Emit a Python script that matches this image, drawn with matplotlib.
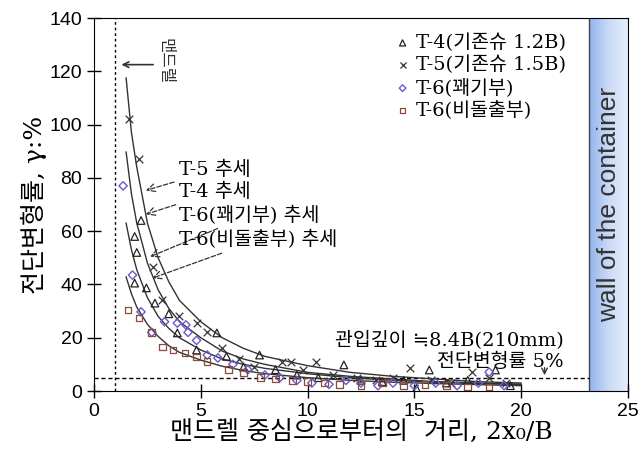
import numpy as np
import matplotlib
matplotlib.use('Agg')
import matplotlib.pyplot as plt
from matplotlib.colors import LinearSegmentedColormap

plt.rcParams['font.family'] = ['Liberation Sans', 'Noto Sans CJK KR', 'DejaVu Sans']
kr_serif = ['DejaVu Serif', 'Noto Sans CJK KR', 'DejaVu Sans']

# measured points
t4_x = [1.9, 2.0, 2.2, 1.9, 2.45, 2.85, 3.5, 3.9, 4.8, 5.75, 6.2, 7.0, 7.75, 8.5, 9.5,
        10.5, 11.7, 12.5, 13.5, 14.5, 15.1, 15.7, 16.5, 17.5, 18.8, 19.5]
t4_y = [58, 52, 64, 40.5, 38.7, 33, 29, 21.8, 15.4, 21.8, 13, 9, 13.5, 8, 6,
        5, 9.8, 4, 3.5, 4, 1, 7.9, 3, 4, 7.9, 2]

t5_x = [1.64, 2.1, 2.76, 3.2, 4.0, 4.8, 5.3, 6.0, 6.8, 7.5, 8.8, 9.2, 9.8, 10.4,
        11.2, 12.3, 13.2, 14.0, 14.8, 15.8, 16.7, 17.7, 18.5, 19.3]
t5_y = [102, 87, 46.5, 34, 28, 25.5, 22, 16, 12, 9, 11, 11, 8, 11,
        6, 5, 4, 5, 8.6, 4, 3, 7.1, 5, 3]

t6a_x = [1.36, 1.8, 2.2, 2.7, 3.3, 3.9, 4.3, 4.4, 4.8, 5.3, 5.8, 6.5, 7.2, 8.0, 8.7,
         9.5, 10.2, 11.0, 11.8, 12.5, 13.3, 14.0, 15.0, 16.0, 17.0, 18.0, 18.5, 19.2]
t6a_y = [77, 43.5, 29.7, 22, 26, 25.5, 24.8, 22, 19, 13.5, 12.4, 10, 8, 6, 5,
         4, 3, 2.5, 4, 3, 2, 3, 2, 3, 2, 3, 7.1, 2]

t6b_x = [1.6, 2.1, 2.7, 3.2, 3.7, 4.25, 4.8, 5.3, 6.3, 7.0, 7.8, 8.5, 9.3, 10.0,
         10.8, 11.5, 12.5, 13.5, 14.5, 15.5, 16.5, 17.5, 18.5]
t6b_y = [30.4, 27.4, 22, 16.5, 15.4, 14.2, 12.8, 11, 8, 7, 5, 4.5, 4, 3.5,
         3, 2.5, 2, 3, 2, 2.5, 2, 1.5, 1.5]

# trend lines
trend_x = [1.5, 1.75, 2, 2.5, 3, 3.5, 4, 5, 6, 7, 8, 10, 12, 14, 16, 18, 20]
trend_t5 = [117.5, 97, 84, 63, 50, 41, 34, 26, 20, 16, 13, 9.5, 7, 5.5, 4.5, 3.5, 3]
trend_t4 = [89.7, 74, 63, 48, 38, 31, 26, 20, 15, 12, 10, 7, 5.5, 4.5, 3.5, 3, 2.5]
trend_t6a = [63, 53, 45.5, 35, 28, 23.5, 20, 15.4, 12, 10, 8.5, 6.5, 5, 4, 3.3, 2.8, 2.5]
trend_t6b = [42.8, 36.5, 31.5, 25, 20.5, 17, 14.5, 11.6, 9.3, 7.7, 6.5, 5, 4, 3.3, 2.8, 2.4, 2]

trend_labels = ['T-5 추세', 'T-4 추세', 'T-6(꽤기부) 추세', 'T-6(비돌출부) 추세']
trend_text_y = [83, 74.7, 66, 56.7]
trend_tip = [(2.3, 75), (2.3, 66), (2.5, 50), (2.6, 42)]

fig = plt.figure(figsize=(6.4, 4.68), dpi=100)
ax = fig.add_axes([0.147, 0.1645, 0.834, 0.797])

# wall of the container
cmap = LinearSegmentedColormap.from_list('wall', ['#93b4ec', '#c9dbf7', '#e4eefc'])
grad = np.linspace(0, 1, 100).reshape(1, -1)
ax.imshow(grad, cmap=cmap, extent=[23.2, 25, 0, 140], aspect='auto', zorder=1)
ax.plot([23.2, 23.2], [0, 140], color='#444444', lw=1, zorder=2)
ax.text(24.1, 70, 'wall of the container', rotation=90, ha='center', va='center',
        fontsize=19, color='#333333', zorder=3)

# reference lines
ax.plot([1.0, 1.0], [0, 140], color='black', lw=1, ls=(0, (2, 2)), zorder=2)
ax.plot([0, 23.2], [5, 5], color='black', lw=1, ls=(0, (3, 2)), zorder=2)

for ty in [trend_t5, trend_t4, trend_t6a, trend_t6b]:
    ax.plot(trend_x, ty, color='#333333', lw=1.0, zorder=4)

ax.scatter(t4_x, t4_y, marker='^', s=30, facecolors='none', edgecolors='#222222',
           linewidths=0.9, zorder=5, label='T-4(기존슈 1.2B)')
ax.scatter(t5_x, t5_y, marker='x', s=30, color='#333333', linewidths=0.9, zorder=5,
           label='T-5(기존슈 1.5B)')
ax.scatter(t6a_x, t6a_y, marker='D', s=18, facecolors='none', edgecolors='#6a5acd',
           linewidths=1.0, zorder=5, label='T-6(꽤기부)')
ax.scatter(t6b_x, t6b_y, marker='s', s=22, facecolors='none', edgecolors='#8b4a3a',
           linewidths=0.9, zorder=5, label='T-6(비돌출부)')

for lab, ty, tip in zip(trend_labels, trend_text_y, trend_tip):
    ax.annotate(lab, xy=tip, xytext=(4.0, ty), fontsize=14, va='center', ha='left',
                family=kr_serif,
                arrowprops=dict(arrowstyle='->', ls='--', color='#333333', lw=0.9))

# mandrel arrow
ax.annotate('', xy=(1.15, 122.5), xytext=(2.9, 122.5),
            arrowprops=dict(arrowstyle='->', color='#333333', lw=1.2))
ax.text(3.3, 124, '맨드렐', rotation=-90, ha='center', va='center', fontsize=12,
        family=kr_serif, color='#333333')

ax.text(22.0, 19, '관입깊이 ≒8.4B(210mm)', ha='right', va='center', fontsize=14,
        family=kr_serif)
ax.text(22.0, 11, '전단변형률 5%', ha='right', va='center', fontsize=14, family=kr_serif)
ax.annotate('', xy=(21.1, 4.9), xytext=(21.1, 9.8),
            arrowprops=dict(arrowstyle='->', color='#333333', lw=1.0))

leg = ax.legend(loc='upper right', bbox_to_anchor=(0.91, 0.995), frameon=False,
                prop={'family': kr_serif, 'size': 14}, handletextpad=0.2,
                borderpad=0.2, labelspacing=0.2, handlelength=1.0, markerscale=0.8)

ax.set_xlim(0, 25)
ax.set_ylim(0, 140)
ax.set_xticks([0, 5, 10, 15, 20, 25])
ax.set_yticks(range(0, 141, 20))
ax.tick_params(direction='inout', length=10, labelsize=14, width=1)
ax.set_xlabel('맨드렐 중심으로부터의  거리, 2x₀/B', fontsize=18,
              family=kr_serif, labelpad=1)
ax.set_ylabel('전단변형률, γ:%', fontsize=18, family=kr_serif, labelpad=2)

plt.savefig('out.png', dpi=100)
